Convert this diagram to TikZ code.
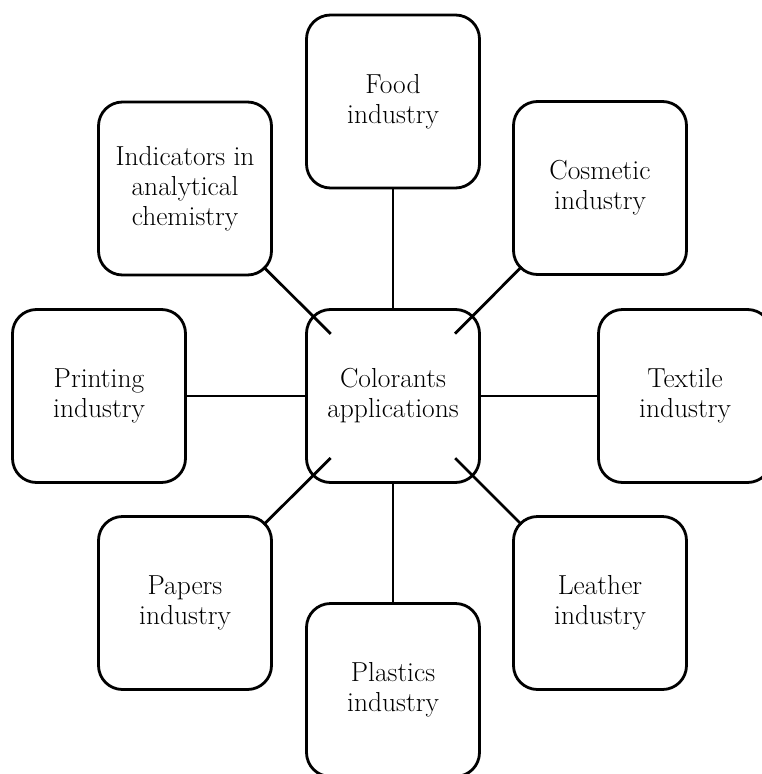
\documentclass[tikz,border=0pt]{standalone}
\begin{document}
\begin{tikzpicture}[x=1pt,y=1pt,
		boite/.style={draw, fill=white, line width=2.8pt, rounded corners=24pt,
			minimum width=173pt, minimum height=173pt, align=center,
			font=\fontsize{27.5}{30}\selectfont},
		lien/.style={line width=2.8pt}]
		\useasboundingbox (0,0) rectangle (761,-774);
		% Création des nœuds
		\node[boite] (cen) at (393,-396) {Colorants\\applications};
		\node[boite] (food) at (393,-101.5) {Food\\industry};
		\node[boite] (plast) at (393,-690) {Plastics\\industry};
		\node[boite] (print) at (99,-396) {Printing\\industry};
		\node[boite] (text) at (685,-396) {Textile\\industry};
		\node[boite] (ind) at (185,-188.5) {Indicators in\\analytical\\chemistry};
		\node[boite] (cosm) at (600,-188) {Cosmetic\\industry};
		\node[boite] (pap) at (185,-603) {Papers\\industry};
		\node[boite] (leath) at (600,-603) {Leather\\industry};
		
		% Dessin des liaisons
		\draw[lien] (food) -- (cen);
		\draw[lien] (plast) -- (cen);
		\draw[lien] (print) -- (cen);
		\draw[lien] (text) -- (cen);
		\draw[lien, shorten <=111pt, shorten >=88pt] (ind.center) -- (cen.center);
		\draw[lien, shorten <=111pt, shorten >=88pt] (cosm.center) -- (cen.center);
		\draw[lien, shorten <=111pt, shorten >=88pt] (pap.center) -- (cen.center);
		\draw[lien, shorten <=111pt, shorten >=88pt] (leath.center) -- (cen.center);
	\end{tikzpicture}
\end{document}
